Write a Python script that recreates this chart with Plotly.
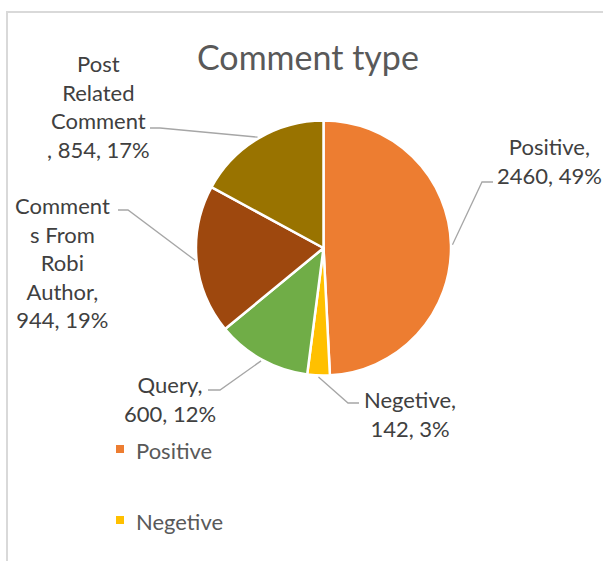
import math
import plotly.graph_objects as go

# ---- data -------------------------------------------------------------
categories = ["Positive", "Negetive", "Query", "Comments From Robi Author", "Post Related Comment"]
counts = [2460, 142, 600, 944, 854]
colors = ["#ED7D31", "#FFC000", "#70AD47", "#9E480E", "#997300"]

# wrapped category text as it appears in each data label
label_heads = [
    "Positive,<br>",
    "Negetive,<br>",
    "Query,<br>",
    "Comment<br>s From<br>Robi<br>Author,<br>",
    "Post<br>Related<br>Comment<br>, ",
]

# ---- layout constants (pixels) ----------------------------------------
W, H = 603, 561
FONT = "Lato, 'Open Sans', sans-serif"
PIE_LEFT, PIE_RIGHT, PIE_TOP, PIE_BOTTOM = 196, 451, 120.5, 375.5

# label block centres and leader-line elbows for each slice
label_centres = [(549, 161.5), (410, 413.5), (170, 399), (62.5, 262), (98, 106)]
elbows = [(482, 182), (348, 403), (220, 390), (128, 210), (160, 128)]
elbow_ends = [493, 359, 208, 118, 150]

legend_items = 2                      # entries that fit in the legend box
legend_x, legend_text_x = 120, 134
legend_rows = [449, 520]


def px(x):
    return x / W


def py(y):
    return 1 - y / H


total = sum(counts)
pcts = [round(100 * c / total) for c in counts]
texts = [f"{h}{c}, {p}%" for h, c, p in zip(label_heads, counts, pcts)]

fig = go.Figure(
    go.Pie(
        labels=categories,
        values=counts,
        marker=dict(colors=colors, line=dict(color="white", width=2.5)),
        sort=False,
        direction="clockwise",
        rotation=0,
        textinfo="none",
        showlegend=False,
        domain=dict(x=[px(PIE_LEFT), px(PIE_RIGHT)], y=[py(PIE_BOTTOM), py(PIE_TOP)]),
    )
)

cx = (PIE_LEFT + PIE_RIGHT) / 2
cy = (PIE_TOP + PIE_BOTTOM) / 2
r = (PIE_RIGHT - PIE_LEFT) / 2

shapes = []
annotations = []

# leader lines start on the rim at each slice's mid angle
cum = 0
for i, c in enumerate(counts):
    mid = (cum + c / 2) / total * 2 * math.pi
    cum += c
    sx = cx + (r + 1.5) * math.sin(mid)
    sy = cy - (r + 1.5) * math.cos(mid)
    ex, ey = elbows[i]
    path = f"M {px(sx)},{py(sy)} L {px(ex)},{py(ey)} L {px(elbow_ends[i])},{py(ey)}"
    shapes.append(dict(type="path", path=path, xref="paper", yref="paper",
                       line=dict(color="#A6A6A6", width=1.3)))
    lx, ly = label_centres[i]
    annotations.append(dict(
        text=texts[i], x=px(lx), y=py(ly), xref="paper", yref="paper",
        xanchor="center", yanchor="middle", align="center", showarrow=False,
        font=dict(family=FONT, size=22, color="#404040"),
    ))

# chart-area border (only top and left edges fall inside the view)
shapes.append(dict(type="rect", xref="paper", yref="paper",
                   x0=px(7), y0=py(H + 20), x1=px(W + 20), y1=py(12),
                   line=dict(color="#D9D9D9", width=2), fillcolor="rgba(0,0,0,0)"))

# title
annotations.append(dict(
    text="Comment type", x=px(308), y=py(57), xref="paper", yref="paper",
    xanchor="center", yanchor="middle", showarrow=False,
    font=dict(family=FONT, size=34, color="#595959"),
))

# legend entries
for i in range(legend_items):
    yc = legend_rows[i]
    shapes.append(dict(type="rect", xref="paper", yref="paper",
                       x0=px(legend_x - 4), x1=px(legend_x + 4),
                       y0=py(yc + 4), y1=py(yc - 4),
                       fillcolor=colors[i], line=dict(width=0)))
    annotations.append(dict(
        text=categories[i], x=px(legend_text_x), y=py(yc + 1), xref="paper", yref="paper",
        xanchor="left", yanchor="middle", showarrow=False,
        font=dict(family=FONT, size=22, color="#595959"),
    ))

fig.update_layout(
    width=W, height=H,
    margin=dict(l=0, r=0, t=0, b=0),
    paper_bgcolor="white", plot_bgcolor="white",
    shapes=shapes, annotations=annotations,
)

fig.write_html("out.html")
